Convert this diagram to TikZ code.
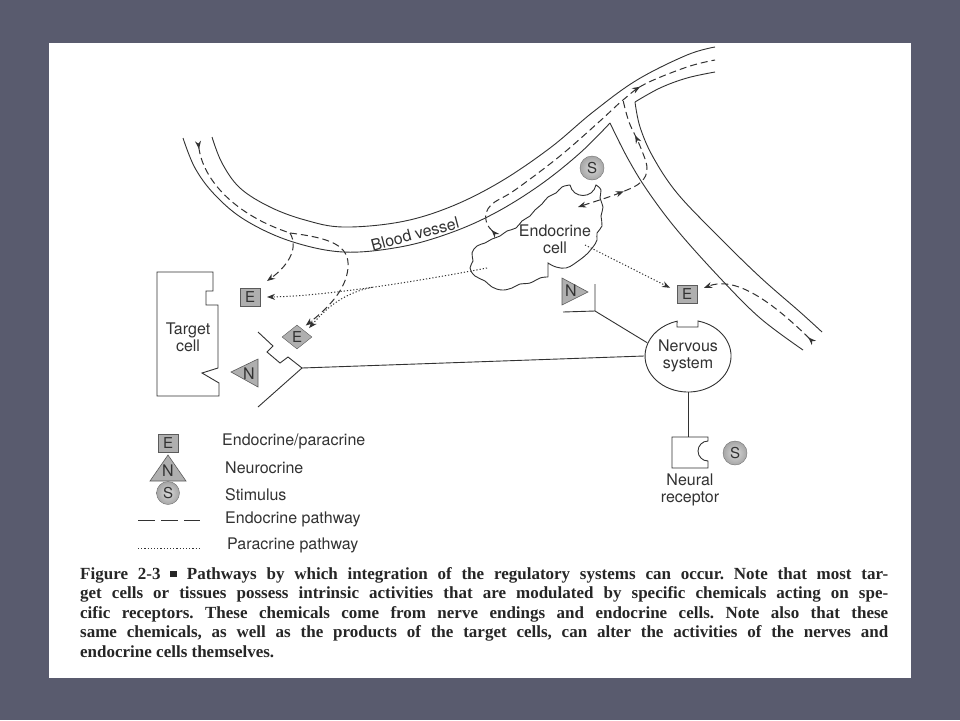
\documentclass[tikz,border=0pt]{standalone}
\usepackage{fontspec}
\setmainfont{TeX Gyre Heros}
\newfontfamily\capfont{Liberation Serif}
\usetikzlibrary{arrows.meta,decorations.markings,shapes.geometric}
\definecolor{slide}{RGB}{89,91,110}
\definecolor{ink}{RGB}{50,50,50}
\definecolor{chem}{RGB}{175,175,175}

\begin{document}
\begin{tikzpicture}[x=1pt, y=-1pt,
	every node/.style={font=\fontsize{16}{17}\selectfont, text=ink, inner sep=1pt},
	wall/.style={draw=ink, line width=0.9pt},
	endo/.style={draw=ink, line width=1pt, dash pattern=on 7pt off 4pt},
	para/.style={draw=ink, line width=1pt, dash pattern=on 1.2pt off 2pt},
	tipend/.style={-{Stealth[length=8pt,width=6pt]}},
	tipstart/.style={{Stealth[length=8pt,width=6pt]}-},
	tipflow/.style={{Stealth[length=8pt,width=6pt,reversed]}-},
	tipboth/.style={{Stealth[length=8pt,width=6pt,reversed]}-{Stealth[length=8pt,width=6pt]}},
	mid arrow/.style={postaction={decorate, decoration={markings, mark=at position #1 with {\arrow{Stealth[length=8pt,width=6pt]}}}}},
	chemE/.style={draw=ink!80, fill=chem, minimum width=20pt, minimum height=18pt, inner sep=0pt, outer sep=7pt, font=\fontsize{15}{16}\selectfont},
	chemD/.style={diamond, draw=ink!80, fill=chem, aspect=1.26, minimum width=30pt, minimum height=24pt, inner sep=0pt, font=\fontsize{15}{16}\selectfont},
	chemS/.style={circle, draw=ink!70, inner color=gray!30, outer color=gray!70, minimum size=24pt, inner sep=0pt, font=\fontsize{15}{16}\selectfont},
	chemN/.style={draw=ink!80, fill=chem, line width=0.6pt}]
	\useasboundingbox (0,0) rectangle (960,720);
	\fill[slide] (0,0) rectangle (960,720);
	\fill[white] (49,43) rectangle (911,678);
	\draw[wall] plot[smooth, tension=0.6] coordinates {(183,138) (195,168) (215,195) (245,220) (290,241) (343,252) (400,247) (450,233) (495,213) (540,185) (580,153) (610,123)};
	\draw[wall] plot[smooth, tension=0.6] coordinates {(610,123) (627,157) (647,190) (677,230) (720,278) (760,318) (803,350)};
	\draw[wall] plot[smooth, tension=0.6] coordinates {(212,137) (222,163) (240,188) (270,207) (305,220) (343,227) (400,222) (450,207) (500,182) (550,148) (593,112) (637,80) (687,55) (715,47)};
	\draw[wall] plot[smooth, tension=0.6] coordinates {(715,72) (687,78) (660,88) (635,102)};
	\draw[wall] plot[smooth, tension=0.6] coordinates {(635,102) (640,127) (653,157) (677,193) (717,235) (760,277) (800,312) (822,332)};
	\node[rotate=15] (bv) at (415,234) {Blood vessel};
	\draw[wall] (548,277) -- (548,263) -- plot[smooth, tension=0.7] coordinates {(548,263) (556,267) (566,268) (574,264) (581,259) (588,253) (593,247) (597,240) (597,233) (602,226) (601,216) (603,207) (600,198) (601,190) (596,185)} .. controls (593,199) and (573,199) .. (570,185) -- plot[smooth, tension=0.7] coordinates {(570,185) (562,187) (556,193) (548,197) (542,204) (535,210) (530,216) (522,221) (516,228) (507,231) (500,236) (492,239) (485,243) (477,246) (472,253) (473,261) (470,268) (475,276) (485,281) (492,287) (502,290) (512,288) (520,284) (530,283) (540,278) (548,277)};
	\node[align=center] (ec) at (555,239) {Endocrine\\cell};
	\coordinate (ec1) at (487,268);
	\coordinate (ec2) at (585,245);
	\coordinate (ec3) at (497,236);
	\coordinate (ec4) at (578,207);
	\node[chemS] (S1) at (592,168) {S};
	\draw[wall] (157,272) -- (213,272) -- (213,291) -- (206,291) -- (206,305) -- (218,305) -- (218,368) -- (202,373) -- (219,383) -- (219,396) -- (157,396) -- cycle;
	\node[align=center] (tc) at (188,337) {Target\\cell};
	\node[chemE] (E1) at (250,297) {E};
	\node[chemD] (E2) at (297,337) {E};
	\node[chemE] (E3) at (687,294) {E};
	\filldraw[chemN] (231,372) -- (258,359) -- (258,387) -- cycle;
	\node (N1) at (249,374) {N};
	\filldraw[chemN] (588,292) -- (562,278) -- (562,305) -- cycle;
	\node (N2) at (571,291) {N};
	\draw[wall] (698,327) -- (698,321) arc[start angle=-76.6, end angle=255.2, x radius=43, y radius=36] -- (677,327) -- cycle;
	\node[ellipse, minimum width=86pt, minimum height=72pt, align=center] (ns) at (688,356) {Nervous\\system};
	\coordinate (tj) at (302,368);
	\draw[wall] (258,332) -- (273,346) -- (267,352) -- (280,363) -- (288,357) -- (tj) -- (258,407);
	\draw[wall] (tj) -- (ns.west);
	\coordinate (nj) at (595,311);
	\draw[wall] (595,284) -- (nj) -- (563,312);
	\draw[wall] (nj) -- (ns.162);
	\draw[wall] (672,437) -- (708,437) -- (708,441) arc[start angle=-90, end angle=-270, radius=10] -- (708,468) -- (672,468) -- cycle;
	\node[minimum width=36pt, minimum height=31pt, inner sep=0pt] (nr) at (690,452.5) {};
	\draw[wall] (ns.south) -- (ns.south |- nr.north);
	\node[chemS] (S2) at (735,453) {S};
	\node[align=center] (nrlab) at (690,490) {Neural\\receptor};
	\coordinate (vt) at (198,141);
	\coordinate (vf) at (290,233);
	\coordinate (bt) at (814,343);
	\draw[endo, tipflow] (vt) .. controls (203,180) and (235,215) .. (vf);
	\draw[endo, tipend] (vf) .. controls (300,250) and (285,268) .. (E1.north east);
	\draw[endo, tipend, shorten >=5pt] (vf) .. controls (330,238) and (350,245) .. (348,268) .. controls (346,290) and (328,308) .. (E2.60);
	\draw[endo, tipflow, mid arrow=0.74] plot[smooth, tension=0.6] coordinates {(ec3) (486,220) (491,205) (515,190) (560,156) (600,121) (623,100) (645,84) (687,67) (715,60)};
	\draw[endo, tipstart, mid arrow=0.31, mid arrow=0.76] plot[smooth, tension=0.6] coordinates {(ec4) (622,192) (641,182) (647,168) (640,146) (629,122) (623,100)};
	\draw[endo, tipboth] (bt) .. controls (760,290) and (730,278) .. (E3.20);
	\draw[para, tipend] (ec1) .. controls (430,279) and (330,296) .. (E1.east) coordinate[pos=0.53] (pf);
	\draw[para, tipend, shorten >=5pt] (pf) .. controls (345,293) and (328,306) .. (E2.30);
	\draw[para, tipend] (ec2) -- (E3.160);
	\node[chemE] (lgE) at (168,443) {E};
	\node[anchor=west] (lgEt) at (221,441) {Endocrine/paracrine};
	\filldraw[chemN] (168,455) -- (186,481) -- (150,481) -- cycle;
	\node (lgN) at (168,471) {N};
	\node[anchor=west] (lgNt) at (224,468) {Neurocrine};
	\node[chemS, minimum size=23pt] (lgS) at (168,493) {S};
	\node[anchor=west] (lgSt) at (224,495) {Stimulus};
	\draw[endo, dash pattern=on 17pt off 6pt] (138,520) -- (200,520);
	\node[anchor=west] (lgDt) at (224,519) {Endocrine pathway};
	\draw[para] (138,548) -- (200,548);
	\node[anchor=west] (lgPt) at (226,545) {Paracrine pathway};
	\node[anchor=north west, inner sep=0pt, align=left, text=black!85, font=\capfont\bfseries\frenchspacing\fontsize{17}{19.5}\selectfont] (cap) at (80,567) {\makebox[808pt][s]{Figure 2-3 \rule[0.1em]{0.4em}{0.4em} Pathways by which integration of the regulatory systems can occur. Note that most tar-}\\
	\makebox[808pt][s]{get cells or tissues possess intrinsic activities that are modulated by specific chemicals acting on spe-}\\
	\makebox[808pt][s]{cific receptors. These chemicals come from nerve endings and endocrine cells. Note also that these}\\
	\makebox[808pt][s]{same chemicals, as well as the products of the target cells, can alter the activities of the nerves and}\\
	endocrine cells themselves.};
\end{tikzpicture}
\end{document}
